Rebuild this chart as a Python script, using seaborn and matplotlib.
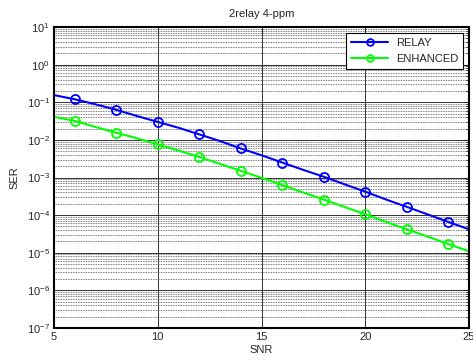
import matplotlib
matplotlib.use("Agg")
import matplotlib.pyplot as plt
import matplotlib.ticker as mticker
import seaborn as sns
import numpy as np

snr = [5, 6, 7, 8, 9, 10, 11, 12, 13, 14, 15, 16, 17, 18, 19, 20, 21, 22, 23, 24, 25]
relay = [0.155, 0.12, 0.088, 0.063, 0.043, 0.030, 0.021, 0.014, 0.0093, 0.0059,
         0.0039, 0.0025, 0.0016, 0.00105, 0.00066, 0.00042, 0.00026, 0.000166,
         0.000105, 0.000066, 0.000042]
enhanced = [0.041, 0.032, 0.022, 0.0155, 0.011, 0.0076, 0.0052, 0.0035, 0.0023,
            0.0015, 0.00098, 0.00063, 0.0004, 0.00026, 0.000165, 0.000105,
            0.000066, 0.000042, 0.000027, 0.000017, 0.000011]
title = "2relay 4-ppm"
xlabel = "SNR"
ylabel = "SER"

sns.set_style("white")
plt.rcParams['font.family'] = ['Liberation Sans', 'DejaVu Sans']
plt.rcParams['mathtext.fontset'] = 'custom'
plt.rcParams['mathtext.rm'] = 'Liberation Sans'
plt.rcParams['mathtext.it'] = 'Liberation Sans'

fig = plt.figure(figsize=(4.73, 3.61), dpi=100)
ax = fig.add_axes([54/473, 1-328/361, (469-54)/473, (328-27)/361])

mk = dict(marker='o', markevery=slice(1, None, 2), markerfacecolor='none',
          markersize=6.5, markeredgewidth=1.3, linewidth=1.5)
sns.lineplot(x=snr, y=relay, color='#0000ff', markeredgecolor='#0000ff',
             label='RELAY', ax=ax, **mk)
sns.lineplot(x=snr, y=enhanced, color='#00ff00', markeredgecolor='#00ff00',
             label='ENHANCED', ax=ax, **mk)

ax.set_yscale('log')
ax.set_xlim(5, 25)
ax.set_ylim(1e-7, 1e1)
ax.set_xticks([5, 10, 15, 20, 25])
ax.yaxis.set_major_locator(mticker.LogLocator(base=10, numticks=20))
ax.yaxis.set_minor_locator(mticker.LogLocator(base=10, subs=np.arange(2, 10), numticks=20))
ax.yaxis.set_minor_formatter(mticker.NullFormatter())

ax.grid(True, which='major', axis='both', color='0.2', linewidth=0.7)
ax.grid(True, which='minor', axis='y', color='0.3', linewidth=0.6, linestyle=(0, (1, 1)))

ax.tick_params(which='both', direction='in', top=True, right=True, labelsize=8)
ax.tick_params(which='major', length=4, width=0.8, pad=3)
ax.tick_params(which='minor', length=2, width=0.6)
for s in ax.spines.values():
    s.set_linewidth(1.5)
    s.set_color('black')

ax.set_title(title, fontsize=8, pad=7)
ax.set_xlabel(xlabel, fontsize=8, labelpad=2)
ax.set_ylabel(ylabel, fontsize=8, labelpad=5)

leg = ax.legend(loc='upper right', fontsize=8, frameon=True, fancybox=False,
                edgecolor='black', framealpha=1, borderaxespad=0.5,
                handlelength=3.4, labelspacing=0.55, markerscale=0.75,
                borderpad=0.45, handletextpad=0.7)
leg.get_frame().set_linewidth(0.8)

fig.savefig('out.png', dpi=100)
